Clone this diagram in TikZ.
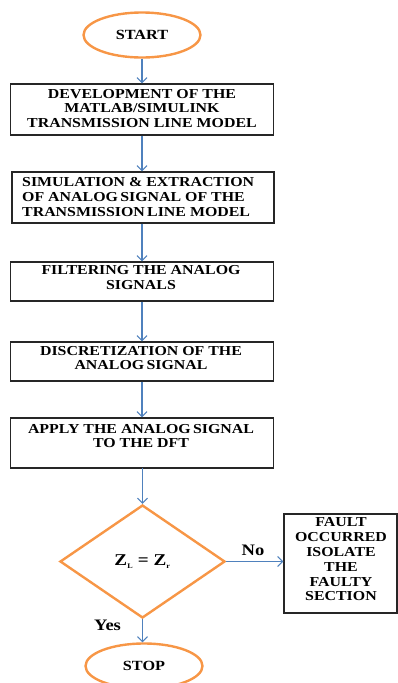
\documentclass[tikz,border=0pt]{standalone}
\usepackage{fontspec}
\setmainfont{Liberation Serif}[FakeStretch=1.16]
\usetikzlibrary{shapes.geometric,arrows.meta}
\definecolor{flowblue}{HTML}{4F81BD}
\definecolor{floworange}{HTML}{F79646}
\begin{document}
\begin{tikzpicture}[x=1pt,y=-1pt,
  box/.style={draw=black!85, line width=1.3pt, rectangle, minimum width=263pt, inner sep=0pt},
  term/.style={ellipse, draw=floworange, line width=2.4pt, minimum width=117pt, minimum height=45pt, inner sep=0pt, font=\bfseries\fontsize{14}{15}\selectfont},
  dec/.style={diamond, draw=floworange, line width=2.4pt, minimum width=165pt, minimum height=113pt, inner sep=0pt, font=\bfseries\fontsize{16.5}{18}\selectfont},
  txt/.style={font=\bfseries\fontsize{13.7}{14.8}\selectfont, align=center, inner sep=0pt},
  arr/.style={draw=flowblue, line width=1.1pt, -{Straight Barb[length=5pt,width=10pt]}},
  lbl/.style={font=\bfseries\fontsize{16}{17}\selectfont, inner sep=0pt}]
\useasboundingbox (0,0) rectangle (398,683);

\node[term] (start) at (142,35) {START};
\node[box, minimum height=51pt] (b1) at (142,109.5) {};
\node[txt] (t1) at (142,108.5) {DEVELOPMENT OF THE\\MATLAB/SIMULINK\\TRANSMISSION LINE MODEL};
\node[box, minimum width=262pt, minimum height=51pt] (b2) at (143,197.5) {};
\node[txt, align=left, anchor=west] (t2) at (22,197) {SIMULATION \& EXTRACTION\\OF ANALOG\,SIGNAL OF THE\\TRANSMISSION\,LINE MODEL};
\node[box, minimum height=39pt] (b3) at (142,281.5) {};
\node[txt] (t3) at (141,277.5) {FILTERING THE ANALOG\\SIGNALS};
\node[box, minimum height=39pt] (b4) at (142,361.5) {};
\node[txt] (t4) at (141,358) {DISCRETIZATION OF THE\\ANALOG\,SIGNAL};
\node[box, minimum height=50pt] (b5) at (142,443) {};
\node[txt] (t5) at (141,436) {APPLY THE ANALOG\,SIGNAL\\TO THE DFT};
\node[dec] (d) at (142.5,561.5) {Z\textsubscript{\scriptsize L} = Z\textsubscript{\scriptsize r}};
\node[box, minimum width=113pt, minimum height=99pt] (f) at (340.5,563.5) {};
\node[txt] (tf) at (341,559.5) {FAULT\\OCCURRED\\ISOLATE\\THE\\FAULTY\\SECTION};
\node[term] (stop) at (144,666) {STOP};

\draw[arr] (start.south) -- (b1.north);
\draw[arr] (b1.south) -- (b1.south |- b2.north);
\draw[arr] (b1.south |- b2.south) -- (b3.north);
\draw[arr] (b3.south) -- (b4.north);
\draw[arr] (b4.south) -- (b5.north);
\draw[arr] (b5.south) -- (b5.south -| d.north) -- (d.north);
\draw[arr] (d.east) -- node[lbl, pos=0.47, above=5pt] {No} (d.east -| f.west);
\draw[arr] (d.south) -- node[lbl, pos=0.25, left=21pt] {Yes} (d.south |- stop.north);
\end{tikzpicture}
\end{document}
